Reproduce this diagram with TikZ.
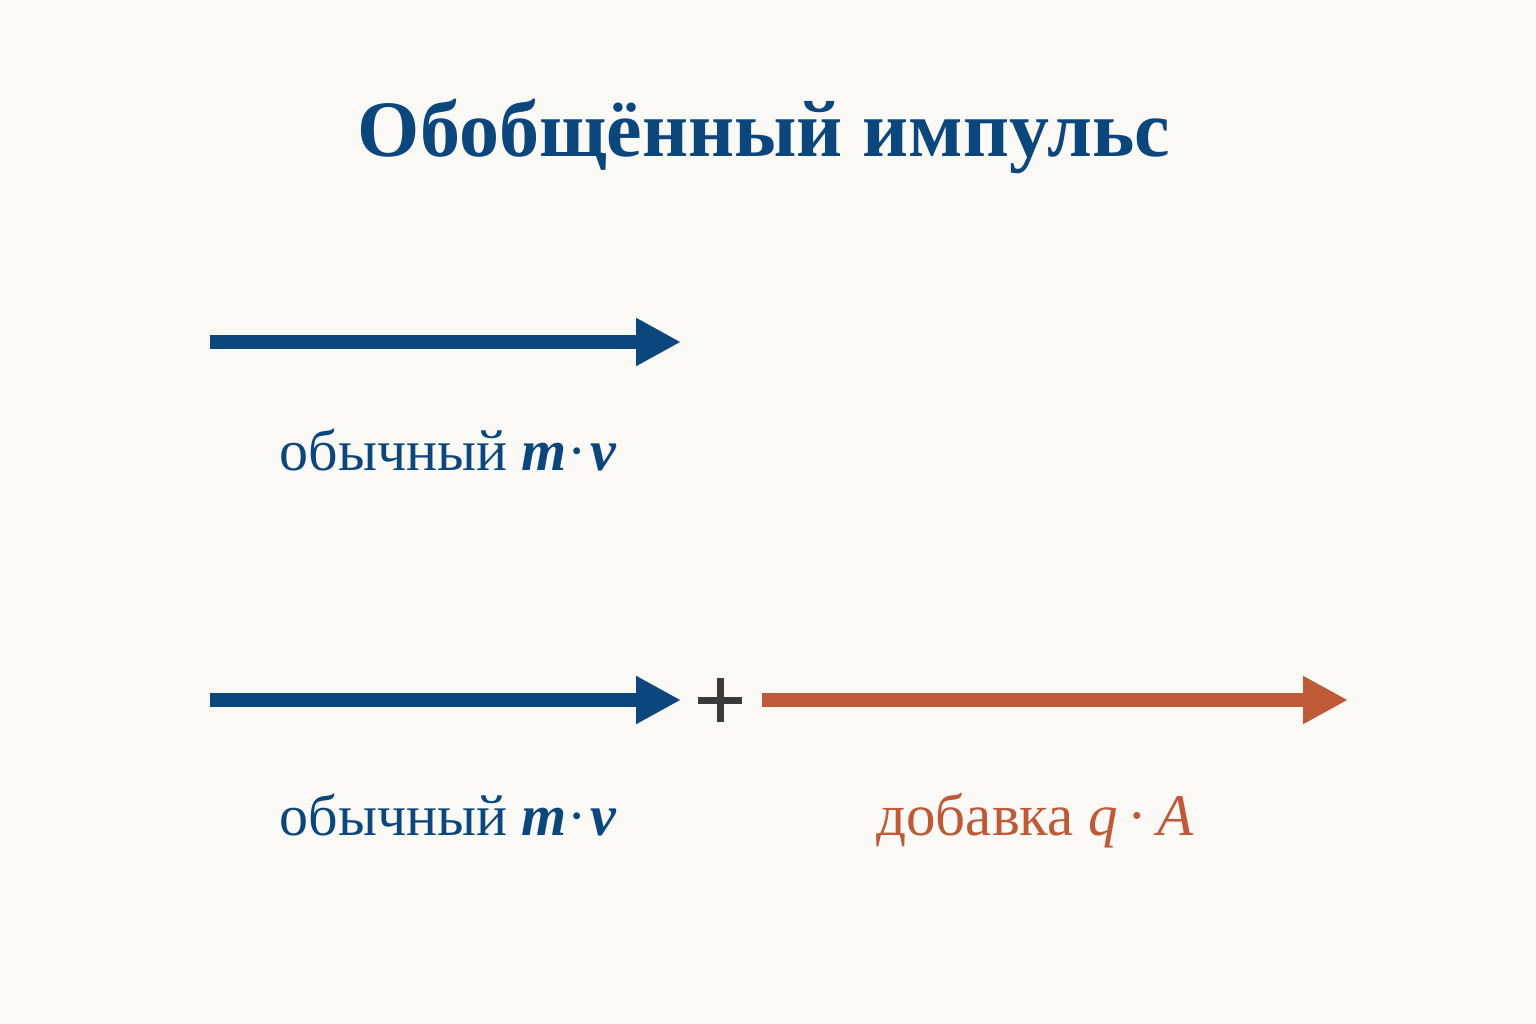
\documentclass[tikz,border=0pt]{standalone}
\usepackage{fontspec}
\setmainfont{Liberation Serif}
\usetikzlibrary{arrows.meta}
\definecolor{bg}{HTML}{FBF9F6}
\definecolor{myblue}{HTML}{0B467C}
\definecolor{myorange}{HTML}{BF5A38}
\definecolor{plusgray}{HTML}{3A3A3A}
\tikzset{
  vecarrow/.style={line width=14pt, -{Triangle[length=45pt,width=45pt]}},
  lbl/.style={anchor=base, inner sep=0pt, font=\fontsize{58pt}{64pt}\selectfont},
}
\begin{document}
\begin{tikzpicture}[x=1pt,y=-1pt]
\fill[bg] (0,0) rectangle (1536,1024);
\useasboundingbox (0,0) rectangle (1536,1024);
\node[anchor=base, inner sep=0pt, text=myblue, font=\fontsize{80pt}{90pt}\selectfont\bfseries] (title) at (764,157) {Обобщённый импульс};
% top arrow
\coordinate (a1s) at (210,342);
\coordinate (a1e) at (681,342);
\draw[vecarrow, myblue] (a1s) -- (a1e);
\node[lbl, text=myblue] (l1) at (448,470) {обычный \textbf{\textit{m}}\kern1pt·\kern3pt\textbf{\textit{v}}};
% bottom
\coordinate (a2s) at (210,700);
\coordinate (a2e) at (681,700);
\draw[vecarrow, myblue] (a2s) -- (a2e);
\draw[plusgray, line width=7pt] (698,700) -- (742,700) (720,678) -- (720,722);
\node[inner sep=0pt] (plus) at (720,700) {};
\coordinate (a3s) at (762,700);
\coordinate (a3e) at (1348,700);
\draw[vecarrow, myorange] (a3s) -- (a3e);
\node[lbl, text=myblue] (l2) at (448,835) {обычный \textbf{\textit{m}}\kern1pt·\kern3pt\textbf{\textit{v}}};
\node[lbl, text=myorange, font=\fontsize{59pt}{66pt}\selectfont] (l3) at (1035,835) {добавка \textit{q}\,·\,\textit{A}};
\end{tikzpicture}
\end{document}
